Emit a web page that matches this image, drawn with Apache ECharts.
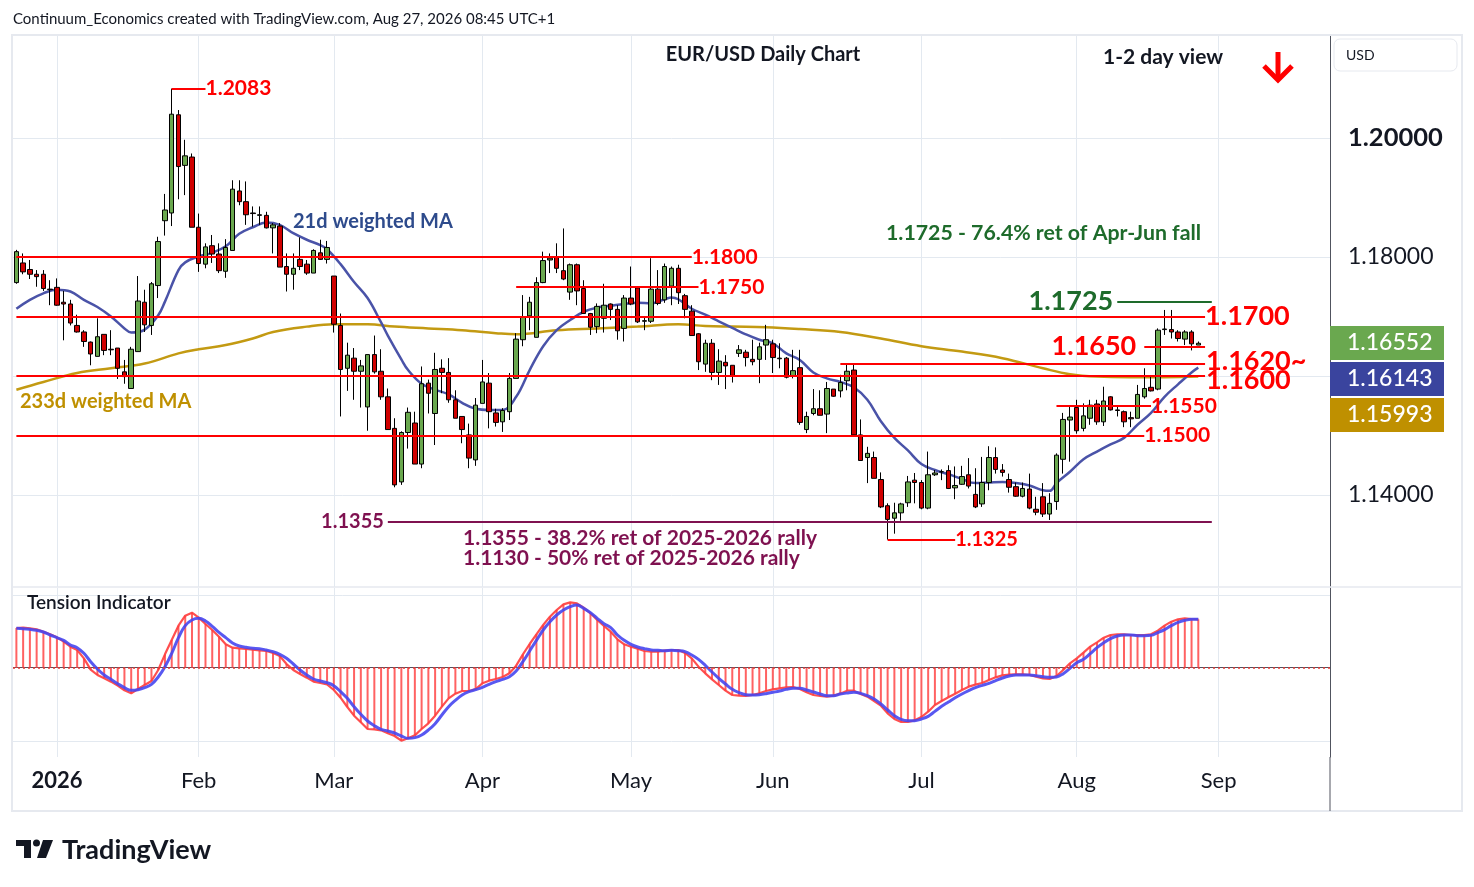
<!DOCTYPE html>
<html><head><meta charset="utf-8">
<script src="https://cdn.jsdelivr.net/npm/echarts@6/dist/echarts.min.js"></script>
<style>html,body{margin:0;padding:0;background:#fff}#c{width:1474px;height:887px}</style>
</head><body><div id="c"></div><script>
// ---------- data ----------
const firstDay = '2025-12-23', lastDay = '2026-09-23';
const holidays = ['2025-12-25', '2026-01-01'];
const monthNames = ['Jan','Feb','Mar','Apr','May','Jun','Jul','Aug','Sep','Oct','Nov','Dec'];

const opens = [
1.1757,1.1790,1.1779,1.1771,1.1771,1.1746,1.1749,1.1724,1.1721,1.1685,
1.1674,1.1657,1.1633,1.1670,1.1645,1.1647,1.1607,1.1579,1.1641,1.1724,
1.1685,1.1752,1.1861,1.1874,1.2039,1.1954,1.1968,1.1850,1.1788,1.1819,
1.1805,1.1776,1.1811,1.1911,1.1893,1.1874,1.1870,1.1870,1.1849,1.1852,
1.1784,1.1771,1.1796,1.1788,1.1773,1.1807,1.1796,1.1768,1.1685,1.1613,
1.1630,1.1608,1.1548,1.1636,1.1608,1.1565,1.1512,1.1422,1.1505,1.1521,
1.1452,1.1588,1.1537,1.1613,1.1606,1.1560,1.1532,1.1501,1.1459,1.1554,
1.1588,1.1538,1.1523,1.1540,1.1596,1.1661,1.1701,1.1665,1.1757,1.1795,
1.1800,1.1777,1.1741,1.1787,1.1747,1.1705,1.1683,1.1697,1.1721,1.1712,
1.1680,1.1731,1.1748,1.1692,1.1692,1.1746,1.1728,1.1751,1.1781,1.1735,
1.1709,1.1671,1.1620,1.1655,1.1606,1.1623,1.1618,1.1638,1.1640,1.1628,
1.1628,1.1652,1.1654,1.1630,1.1630,1.1600,1.1614,1.1510,1.1537,1.1545,
1.1536,1.1578,1.1575,1.1592,1.1610,1.1501,1.1463,1.1463,1.1426,1.1382,
1.1361,1.1370,1.1387,1.1425,1.1421,1.1378,1.1434,1.1439,1.1441,1.1412,
1.1418,1.1434,1.1401,1.1385,1.1421,1.1463,1.1442,1.1426,1.1414,1.1398,
1.1410,1.1376,1.1397,1.1368,1.1389,1.1460,1.1526,1.1547,1.1512,1.1529,
1.1553,1.1523,1.1565,1.1543,1.1540,1.1530,1.1529,1.1565,1.1581,1.1578,
1.1678,1.1678,1.1674,1.1662,1.1674,1.1652];
const highs = [
1.1812,1.1806,1.1795,1.1778,1.1778,1.1761,1.1764,1.1743,1.1728,1.1703,
1.1677,1.1658,1.1697,1.1670,1.1677,1.1647,1.1627,1.1649,1.1768,1.1745,
1.1758,1.1834,1.1906,1.2083,1.2047,1.1997,1.1974,1.1873,1.1823,1.1837,
1.1823,1.1830,1.1929,1.1929,1.1927,1.1885,1.1885,1.1876,1.1857,1.1857,
1.1806,1.1806,1.1833,1.1795,1.1813,1.1829,1.1827,1.1768,1.1705,1.1656,
1.1647,1.1627,1.1636,1.1668,1.1645,1.1579,1.1529,1.1507,1.1547,1.1540,
1.1616,1.1594,1.1639,1.1628,1.1630,1.1576,1.1532,1.1520,1.1563,1.1627,
1.1605,1.1545,1.1546,1.1605,1.1672,1.1736,1.1733,1.1766,1.1809,1.1806,
1.1823,1.1848,1.1789,1.1789,1.1761,1.1706,1.1722,1.1755,1.1722,1.1719,
1.1736,1.1784,1.1750,1.1700,1.1798,1.1778,1.1789,1.1784,1.1787,1.1738,
1.1719,1.1672,1.1661,1.1662,1.1645,1.1635,1.1618,1.1652,1.1644,1.1661,
1.1656,1.1686,1.1661,1.1655,1.1632,1.1644,1.1644,1.1540,1.1578,1.1576,
1.1590,1.1578,1.1602,1.1621,1.1621,1.1527,1.1481,1.1473,1.1438,1.1386,
1.1387,1.1387,1.1432,1.1437,1.1425,1.1473,1.1442,1.1443,1.1450,1.1448,
1.1449,1.1462,1.1445,1.1464,1.1482,1.1480,1.1452,1.1436,1.1421,1.1421,
1.1436,1.1397,1.1420,1.1403,1.1470,1.1538,1.1548,1.1560,1.1554,1.1560,
1.1560,1.1582,1.1566,1.1551,1.1542,1.1540,1.1585,1.1613,1.1599,1.1680,
1.1711,1.1711,1.1677,1.1677,1.1677,1.1658];
const lows = [
1.1755,1.1771,1.1763,1.1750,1.1743,1.1719,1.1718,1.1660,1.1685,1.1673,
1.1649,1.1618,1.1633,1.1635,1.1635,1.1595,1.1587,1.1579,1.1641,1.1674,
1.1669,1.1731,1.1836,1.1852,1.1897,1.1904,1.1850,1.1775,1.1781,1.1790,
1.1773,1.1765,1.1811,1.1887,1.1854,1.1851,1.1854,1.1848,1.1806,1.1783,
1.1742,1.1745,1.1778,1.1770,1.1773,1.1795,1.1789,1.1673,1.1532,1.1575,
1.1560,1.1547,1.1508,1.1604,1.1560,1.1510,1.1413,1.1417,1.1478,1.1452,
1.1445,1.1537,1.1484,1.1571,1.1555,1.1529,1.1487,1.1445,1.1449,1.1554,
1.1512,1.1515,1.1506,1.1526,1.1596,1.1650,1.1677,1.1665,1.1756,1.1773,
1.1773,1.1761,1.1728,1.1719,1.1705,1.1669,1.1672,1.1673,1.1694,1.1661,
1.1658,1.1719,1.1689,1.1677,1.1689,1.1719,1.1723,1.1719,1.1721,1.1697,
1.1668,1.1610,1.1607,1.1593,1.1585,1.1578,1.1589,1.1632,1.1616,1.1618,
1.1588,1.1627,1.1605,1.1613,1.1596,1.1596,1.1518,1.1504,1.1534,1.1534,
1.1504,1.1565,1.1564,1.1576,1.1501,1.1458,1.1420,1.1428,1.1378,1.1325,
1.1335,1.1357,1.1380,1.1386,1.1376,1.1376,1.1432,1.1425,1.1410,1.1393,
1.1417,1.1411,1.1378,1.1380,1.1408,1.1436,1.1431,1.1404,1.1397,1.1396,
1.1376,1.1366,1.1363,1.1358,1.1375,1.1436,1.1456,1.1503,1.1507,1.1518,
1.1518,1.1516,1.1542,1.1532,1.1514,1.1514,1.1529,1.1562,1.1574,1.1576,
1.1669,1.1663,1.1658,1.1652,1.1643,1.1652];
const closes = [
1.1809,1.1775,1.1771,1.1767,1.1747,1.1745,1.1719,1.1721,1.1689,1.1674,
1.1658,1.1637,1.1666,1.1643,1.1644,1.1613,1.1599,1.1645,1.1726,1.1686,
1.1755,1.1826,1.1879,1.2040,1.1952,1.1970,1.1850,1.1789,1.1817,1.1805,
1.1777,1.1816,1.1914,1.1893,1.1871,1.1873,1.1871,1.1849,1.1854,1.1783,
1.1771,1.1781,1.1784,1.1773,1.1811,1.1796,1.1816,1.1687,1.1611,1.1635,
1.1608,1.1617,1.1636,1.1607,1.1565,1.1510,1.1417,1.1505,1.1539,1.1452,
1.1587,1.1571,1.1611,1.1606,1.1560,1.1529,1.1510,1.1462,1.1551,1.1590,
1.1540,1.1522,1.1542,1.1596,1.1662,1.1700,1.1724,1.1757,1.1794,1.1798,
1.1781,1.1763,1.1787,1.1743,1.1705,1.1682,1.1717,1.1719,1.1712,1.1676,
1.1731,1.1721,1.1691,1.1693,1.1746,1.1722,1.1784,1.1781,1.1740,1.1712,
1.1668,1.1624,1.1655,1.1606,1.1625,1.1617,1.1601,1.1644,1.1631,1.1624,
1.1649,1.1661,1.1631,1.1629,1.1598,1.1609,1.1522,1.1532,1.1545,1.1534,
1.1579,1.1566,1.1589,1.1608,1.1501,1.1458,1.1470,1.1428,1.1380,1.1359,
1.1370,1.1385,1.1422,1.1421,1.1378,1.1434,1.1437,1.1439,1.1411,1.1416,
1.1431,1.1415,1.1380,1.1421,1.1463,1.1443,1.1438,1.1413,1.1398,1.1411,
1.1378,1.1371,1.1368,1.1386,1.1467,1.1527,1.1531,1.1508,1.1533,1.1551,
1.1523,1.1558,1.1543,1.1542,1.1523,1.1528,1.1569,1.1579,1.1575,1.1677,
1.1679,1.1674,1.1663,1.1674,1.1654,1.1655];

// 21d weighted MA, read at sampled days: [day index, value]
const ma21Points = [[0,1.1713],[2,1.1728],[4,1.1739],[6,1.1745],[8,1.1742],[10,1.1728],[12,1.1716],[14,1.1700],[16,1.1680],[17,1.1673],[19,1.1678],[21,1.1702],[22,1.1725],[24,1.1778],[25,1.1791],[27,1.1801],[29,1.1807],[31,1.1818],[33,1.1839],[35,1.1850],[37,1.1858],[39,1.1854],[41,1.1840],[43,1.1829],[45,1.1820],[46,1.1813],[48,1.1788],[50,1.1758],[52,1.1731],[54,1.1690],[55,1.1668],[57,1.1628],[58,1.1610],[60,1.1587],[62,1.1577],[64,1.1569],[66,1.1555],[68,1.1545],[70,1.1543],[72,1.1543],[74,1.1565],[76,1.1610],[78,1.1650],[80,1.1677],[82,1.1694],[84,1.1708],[86,1.1715],[88,1.1718],[90,1.1721],[92,1.1723],[94,1.1722],[96,1.1729],[97,1.1732],[98,1.1729],[100,1.1713],[102,1.1703],[104,1.1692],[106,1.1681],[108,1.1670],[110,1.1661],[112,1.1655],[114,1.1638],[116,1.1627],[118,1.1606],[120,1.1596],[122,1.1590],[124,1.1581],[126,1.1560],[128,1.1524],[130,1.1496],[132,1.1475],[134,1.1452],[136,1.1442],[138,1.1435],[140,1.1427],[142,1.1420],[144,1.1421],[146,1.1422],[148,1.1420],[150,1.1416],[152,1.1408],[153,1.1407],[154,1.1420],[156,1.1439],[158,1.1460],[160,1.1473],[162,1.1485],[164,1.1496],[166,1.1518],[168,1.1538],[170,1.1565],[172,1.1586],[174,1.1606],[175,1.1614]];
// 233d weighted MA, read at sampled days
const ma233Points = [[0,1.1577],[4,1.1590],[9,1.1605],[14,1.1613],[19,1.1621],[24,1.1638],[27,1.1645],[31,1.1652],[35,1.1663],[38,1.1674],[43,1.1683],[47,1.1687],[52,1.1687],[56,1.1683],[61,1.1680],[66,1.1677],[71,1.1672],[74,1.1670],[80,1.1677],[86,1.1680],[92,1.1683],[98,1.1687],[102,1.1684],[106,1.1683],[111,1.1682],[116,1.1679],[122,1.1674],[128,1.1663],[134,1.1650],[140,1.1641],[146,1.1630],[152,1.1613],[156,1.1603],[160,1.1599],[165,1.1598],[170,1.1598],[175,1.1599]];

// Tension indicator (arbitrary units), histogram/red line and blue signal
const tension = [
119,120,118,115,108,100,91,78,63,53,
28,-6,-22,-32,-42,-54,-68,-77,-64,-52,
-40,-7,40,83,126,156,165,150,131,113,
93,70,60,58,56,54,52,50,44,35,
11,-7,-19,-30,-42,-46,-50,-67,-90,-118,
-144,-164,-184,-185,-188,-197,-205,-219,-212,-203,
-184,-167,-144,-117,-92,-78,-70,-70,-64,-47,
-39,-34,-28,-17,6,40,71,100,128,153,
173,190,196,193,180,163,143,125,108,85,
70,63,57,50,48,48,51,53,53,44,
28,3,-17,-35,-52,-69,-82,-84,-85,-82,
-77,-70,-65,-62,-59,-58,-64,-74,-82,-85,
-87,-84,-78,-69,-69,-79,-87,-100,-114,-137,
-154,-163,-163,-158,-148,-132,-112,-100,-89,-78,
-67,-57,-51,-46,-37,-29,-23,-21,-20,-20,
-22,-27,-32,-34,-25,-7,13,28,45,63,
76,90,98,100,100,98,98,98,100,111,
126,138,145,148,146,145];
const tensionSignal = [
118,117,115,112,107,98,90,82,68,60,
43,18,-4,-22,-35,-48,-60,-68,-66,-60,
-50,-28,3,43,90,126,143,148,140,124,
106,90,74,65,61,58,57,53,48,40,
28,11,-7,-22,-34,-40,-45,-54,-72,-92,
-117,-140,-160,-174,-185,-190,-196,-205,-212,-210,
-202,-187,-168,-142,-117,-98,-82,-72,-66,-59,
-50,-42,-35,-27,-10,18,50,82,113,138,
158,173,183,188,178,165,148,132,120,98,
82,70,62,57,53,52,51,52,51,48,
38,25,7,-13,-32,-49,-65,-75,-81,-82,
-81,-78,-74,-70,-65,-62,-62,-67,-73,-79,
-84,-84,-79,-76,-74,-77,-84,-94,-109,-127,
-144,-155,-159,-159,-154,-146,-131,-116,-103,-90,
-79,-69,-60,-53,-47,-39,-31,-25,-22,-22,
-22,-24,-27,-29,-28,-18,-2,15,25,42,
60,75,87,95,98,98,96,96,97,105,
114,126,136,142,145,145];

const priceTicks = [1.14, 1.16, 1.18, 1.20];
const priceTags = ['1.16552', '1.16143', '1.15993'];
// level lines: [value, from date, to date, label]
const redLevels = [
  [1.2083, '2026-01-27', '2026-02-03', '1.2083'],
  [1.1800, '2025-12-23', '2026-05-14', '1.1800'],
  [1.1750, '2026-04-08', '2026-05-15', '1.1750'],
  [1.1700, '2025-12-23', '2026-08-28', '1.1700'],
  [1.1650, '2026-08-17', '2026-08-28', '1.1650'],
  [1.1620, '2026-06-15', '2026-08-28', '1.1620~'],
  [1.1600, '2025-12-23', '2026-08-28', '1.1600'],
  [1.1550, '2026-07-29', '2026-08-18', '1.1550'],
  [1.1500, '2025-12-23', '2026-08-17', '1.1500'],
  [1.1325, '2026-06-24', '2026-07-08', '1.1325']
];
const fibLevel = [1.1355, '2026-03-12', '2026-08-31', '1.1355'];
const targetLevel = [1.1725, '2026-08-11', '2026-08-31', '1.1725'];
const texts = {
  credit: 'Continuum_Economics created with TradingView.com, Aug 27, 2026 08:45 UTC+1',
  title: 'EUR/USD Daily Chart',
  view: '1-2 day view',
  ma21: '21d weighted MA',
  ma233: '233d weighted MA',
  ret764: '1.1725 - 76.4% ret of Apr-Jun fall',
  ret382: '1.1355 - 38.2% ret of 2025-2026 rally',
  ret50: '1.1130 - 50% ret of 2025-2026 rally',
  tension: 'Tension Indicator',
  currency: 'USD'
};

// ---------- build ----------
function buildDates(a, b, skip) {
  const out = []; let d = new Date(a + 'T00:00:00Z'); const e = new Date(b + 'T00:00:00Z');
  while (d <= e) {
    const w = d.getUTCDay(); const s = d.toISOString().slice(0, 10);
    if (w !== 0 && w !== 6 && !skip.includes(s)) out.push(s);
    d = new Date(d.getTime() + 86400000);
  }
  return out;
}
const dates = buildDates(firstDay, lastDay, holidays);
const monthStarts = [];
dates.forEach((d, i) => { if (i > 0 && d.slice(5, 7) !== dates[i - 1].slice(5, 7)) monthStarts.push(i); });
const candleData = opens.map((o, i) => [o, closes[i], lows[i], highs[i]]);
const idx = d => dates.indexOf(d);

const FONT = 'Lato, "Noto Sans", sans-serif';
const RED = '#FF0000';
const bigLabels = ['1.1700', '1.1650', '1.1620~', '1.1600'];
const floatLabels = { '1.1620~': -3, '1.1600': 4 };   // labels nudged vertically, drawn as text
const priceMin = 1.124538, priceMax = 1.217311;

function levelLine(l, color, opts) {
  const big = bigLabels.includes(l[3]);
  const lab = Object.assign({
    show: !(l[3] in floatLabels), formatter: l[3], position: 'end', distance: 0, color: color,
    fontFamily: FONT, fontWeight: 'bold', fontSize: big ? 27 : (l[3] === '1.1325' ? 20 : 21)
  }, opts || {});
  return [
    { coord: [idx(l[1]), l[0]], lineStyle: { color: color, width: 2, type: 'solid' }, label: lab },
    { coord: [idx(l[2]), l[0]] }
  ];
}
const levelData = redLevels.map(l => levelLine(l, RED, l[3] === '1.1650' ? { position: 'start', distance: 8 } : {}));
levelData.push(levelLine(fibLevel, '#7F1150', { position: 'start', distance: 4, fontSize: 20 }));
levelData.push(levelLine(targetLevel, '#1E6B2B', { position: 'start', distance: 4, fontSize: 27 }));

const gridLineStyle = { color: '#E3E9F0', width: 1, type: 'solid' };
const monthLines = monthStarts.map(i => ({ xAxis: i }));

function txt(t, x, y, font, fill, extra) {
  return { type: 'text', silent: true, z: 101, style: Object.assign({ text: t, x: x, y: y, font: font, fill: fill,
    verticalAlign: 'middle', textVerticalAlign: 'middle' }, extra || {}) };
}
const graphics = [
  { type: 'rect', silent: true, z: 100, shape: { x: 12, y: 35, width: 1450, height: 776 },
    style: { fill: 'none', stroke: '#E6E9EF', lineWidth: 2 } },
  { type: 'line', silent: true, z: 100, shape: { x1: 12, y1: 587, x2: 1462, y2: 587 }, style: { stroke: '#E6E9EF', lineWidth: 1.5 } },
  { type: 'line', silent: true, z: 100, shape: { x1: 1330, y1: 757, x2: 1330, y2: 811 }, style: { stroke: '#50535E', lineWidth: 1 } },
  txt(texts.credit, 13, 19, '15px ' + FONT, '#131722'),
  txt(texts.title, 763, 55, 'bold 20px ' + FONT, '#131722', { align: 'center', textAlign: 'center' }),
  txt(texts.view, 1103, 57, 'bold 21px ' + FONT, '#131722'),
  { type: 'line', silent: true, z: 100, shape: { x1: 1278, y1: 52, x2: 1278, y2: 79 }, style: { stroke: RED, lineWidth: 5 } },
  { type: 'polyline', silent: true, z: 100, shape: { points: [[1264, 66], [1278, 80], [1292, 66]] }, style: { stroke: RED, lineWidth: 5, fill: 'none' } },
  txt(texts.ma21, 293, 222, 'bold 20px ' + FONT, '#2E4B8C'),
  txt(texts.ma233, 20, 402, 'bold 20px ' + FONT, '#BF9000'),
  txt(texts.ret764, 886, 233, 'bold 21.3px ' + FONT, '#1E6B2B'),
  txt(texts.ret382, 463, 538, 'bold 21px ' + FONT, '#7F1150'),
  txt(texts.ret50, 463, 558, 'bold 21px ' + FONT, '#7F1150'),
  txt(texts.tension, 27, 603, '600 19px ' + FONT, '#131722'),
  { type: 'rect', silent: true, z: 100, shape: { x: 1334, y: 39, width: 123, height: 32, r: 6 }, style: { fill: '#fff', stroke: '#E6E9EF', lineWidth: 1 } },
  txt(texts.currency, 1346, 55, '14px ' + FONT, '#131722'),
  { type: 'rect', silent: true, z: 100, shape: { x: 1330, y: 326, width: 114, height: 34 }, style: { fill: '#6AA84F' } },
  txt(priceTags[0], 1347, 343, '500 23px ' + FONT, '#fff'),
  { type: 'rect', silent: true, z: 100, shape: { x: 1330, y: 362, width: 114, height: 34 }, style: { fill: '#3A449E' } },
  txt(priceTags[1], 1347, 379, '500 23px ' + FONT, '#fff'),
  { type: 'rect', silent: true, z: 100, shape: { x: 1330, y: 398, width: 114, height: 34 }, style: { fill: '#BF9000' } },
  txt(priceTags[2], 1347, 415, '500 23px ' + FONT, '#fff'),
  // TradingView logo
  { type: 'rect', silent: true, z: 100, shape: { x: 16, y: 840, width: 15, height: 6 }, style: { fill: '#131722' } },
  { type: 'rect', silent: true, z: 100, shape: { x: 24, y: 840, width: 7, height: 18 }, style: { fill: '#131722' } },
  { type: 'circle', silent: true, z: 100, shape: { cx: 36.5, cy: 843, r: 3.5 }, style: { fill: '#131722' } },
  { type: 'polygon', silent: true, z: 100, shape: { points: [[43, 840], [53, 840], [46, 858], [37, 858]] }, style: { fill: '#131722' } },
  txt('TradingView', 62, 850, 'bold 27px ' + FONT, '#131722')
];

const chart = echarts.init(document.getElementById('c'));
chart.setOption({
  animation: false,
  backgroundColor: '#ffffff',
  grid: [
    { left: 13, top: 35, width: 1317, height: 552 },
    { left: 13, top: 588, width: 1317, height: 169 }
  ],
  xAxis: [
    { type: 'category', gridIndex: 0, data: dates, boundaryGap: true,
      axisLine: { show: false }, axisTick: { show: false }, axisLabel: { show: false }, splitLine: { show: false } },
    { type: 'category', gridIndex: 1, data: dates, boundaryGap: true,
      axisLine: { show: true, lineStyle: { color: '#50535E', width: 1 } }, axisTick: { show: false },
      splitLine: { show: false },
      axisLabel: {
        interval: (i) => monthStarts.includes(i), margin: 13, fontSize: 22, color: '#131722', fontFamily: FONT,
        formatter: (v) => { const m = +v.slice(5, 7); return m === 1 ? '{y|' + v.slice(0, 4) + '}' : monthNames[m - 1]; },
        rich: { y: { fontWeight: 'bold', fontSize: 22, color: '#131722', fontFamily: FONT } }
      } }
  ],
  yAxis: [
    { type: 'value', gridIndex: 0, position: 'right', min: priceMin, max: priceMax, scale: true,
      splitLine: { show: false }, axisTick: { show: false },
      axisLine: { show: true, lineStyle: { color: '#50535E', width: 1 } },
      axisLabel: { customValues: priceTicks, color: '#131722', fontSize: 23, fontFamily: FONT, margin: 18,
        formatter: v => Math.abs(v - 1.2) < 1e-9 ? '{b|' + v.toFixed(5) + '}' : v.toFixed(5),
        rich: { b: { fontSize: 25.5, fontWeight: 'bold', color: '#131722', fontFamily: FONT } } } },
    { type: 'value', gridIndex: 1, position: 'right', min: -268, max: 239,
      splitLine: { show: false }, axisTick: { show: false }, axisLabel: { show: false },
      axisLine: { show: true, lineStyle: { color: '#50535E', width: 1 } } }
  ],
  series: [
    { name: 'gridMain', type: 'line', xAxisIndex: 0, yAxisIndex: 0, data: [], silent: true, z: 0,
      markLine: { silent: true, symbol: ['none', 'none'], z: 0, animation: false, label: { show: false },
        lineStyle: gridLineStyle,
        data: monthLines.concat(priceTicks.map(v => ({ yAxis: v }))) } },
    { name: 'gridInd', type: 'line', xAxisIndex: 1, yAxisIndex: 1, data: [], silent: true, z: 0,
      markLine: { silent: true, symbol: ['none', 'none'], z: 0, animation: false, label: { show: false },
        lineStyle: gridLineStyle,
        data: monthLines.concat([{ yAxis: -220 }, { yAxis: 216 }]) } },
    { name: '233d weighted MA', type: 'line', xAxisIndex: 0, yAxisIndex: 0, data: ma233Points,
      smooth: 0.4, showSymbol: false, symbol: 'none', z: 2,
      lineStyle: { color: '#C39A12', width: 2.5 } },
    { name: '21d weighted MA', type: 'line', xAxisIndex: 0, yAxisIndex: 0, data: ma21Points,
      smooth: 0.4, showSymbol: false, symbol: 'none', z: 2,
      lineStyle: { color: '#4A53A8', width: 2.5 } },
    { name: 'EURUSD', type: 'candlestick', xAxisIndex: 0, yAxisIndex: 0, data: candleData, barWidth: 5, z: 3,
      itemStyle: { color: '#6AA84F', color0: '#D00000', borderColor: '#000000', borderColor0: '#000000', borderWidth: 1 },
      markLine: { silent: true, symbol: ['none', 'none'], animation: false, z: 6, data: levelData } },
    { name: 'tensionHist', type: 'bar', xAxisIndex: 1, yAxisIndex: 1, data: tension, barWidth: 2,
      itemStyle: { color: 'rgba(255,70,70,0.85)' }, z: 2,
      markLine: { silent: true, symbol: ['none', 'none'], animation: false, label: { show: false },
        lineStyle: { color: '#E53935', type: [2, 3], width: 1.5 }, data: [{ yAxis: 0 }] } },
    { name: 'tension', type: 'line', xAxisIndex: 1, yAxisIndex: 1, data: tension, showSymbol: false, symbol: 'none',
      lineStyle: { color: 'rgba(255,60,60,0.9)', width: 2.2 }, z: 3 },
    { name: 'signal', type: 'line', xAxisIndex: 1, yAxisIndex: 1, data: tensionSignal, smooth: 0.4, showSymbol: false, symbol: 'none',
      lineStyle: { color: 'rgba(70,70,240,0.9)', width: 3 }, z: 4 }
  ],
  graphic: graphics
});

// labels with a small vertical nudge, placed from the level values through the axes
redLevels.filter(l => l[3] in floatLabels).forEach(l => {
  const p = chart.convertToPixel({ xAxisIndex: 0, yAxisIndex: 0 }, [idx(l[2]), l[0]]);
  graphics.push(txt(l[3], p[0] + 1, p[1] + floatLabels[l[3]], 'bold 27px ' + FONT, RED));
});
chart.setOption({ graphic: graphics });
</script></body></html>
